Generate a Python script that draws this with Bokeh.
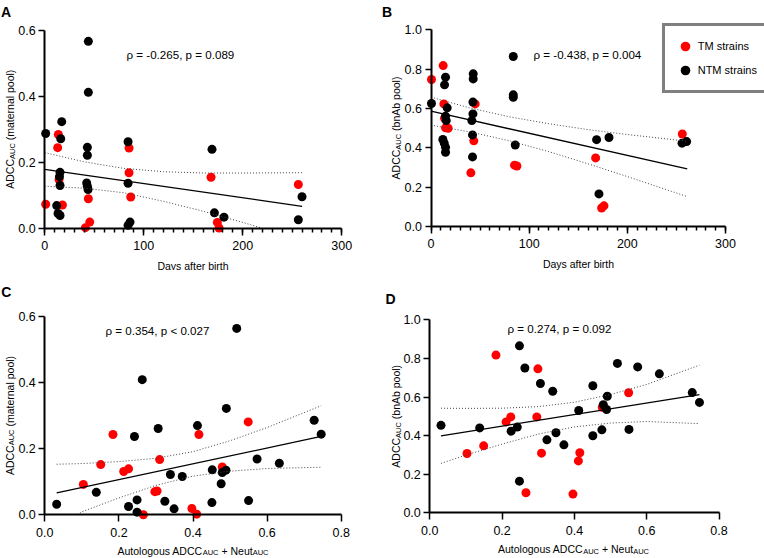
import math
from bokeh.plotting import figure
from bokeh.models import Label, Legend, LegendItem, FixedTicker, NumeralTickFormatter, Range1d
from bokeh.layouts import column, row
from bokeh.embed import file_html
from bokeh.resources import INLINE

FONT = "Liberation Sans"
RED = "#ff0000"
BLACK = "#000000"

# ---------------- Panel A: ADCC (maternal pool) vs days after birth
a_tm_days = [1.0, 13.8, 13.1, 14.5, 17.9, 44.1, 45.5, 41.1, 85.2, 85.2, 86.9, 168.0, 174.4, 176.1, 256.2]
a_tm_vals = [0.072, 0.284, 0.244, 0.147, 0.070, 0.089, 0.018, 0.001, 0.243, 0.168, 0.094, 0.154, 0.017, 0.0, 0.132]
a_ntm_days = [1.0, 17.2, 16.2, 15.5, 14.9, 15.5, 12.1, 13.5, 15.5, 44.1, 44.1, 43.1, 43.1, 42.4, 43.1, 43.8,
              84.2, 84.2, 86.2, 84.2, 169.0, 171.4, 181.1, 259.9, 256.2]
a_ntm_vals = [0.287, 0.323, 0.271, 0.169, 0.156, 0.129, 0.068, 0.044, 0.038, 0.567, 0.412, 0.245, 0.221, 0.137, 0.127, 0.117,
              0.262, 0.136, 0.018, 0.008, 0.239, 0.046, 0.033, 0.095, 0.025]
a_fit_days = [0, 260]
a_fit_vals = [0.178, 0.066]
a_up_days = [0, 40, 80, 120, 160, 200, 260]
a_up_vals = [0.229, 0.201, 0.181, 0.171, 0.167, 0.167, 0.168]
a_lo_days = [0, 40, 80, 120, 160, 200, 219]
a_lo_vals = [0.127, 0.121, 0.107, 0.081, 0.051, 0.017, 0.0]

# ---------------- Panel B: ADCC (bnAb pool) vs days after birth
b_tm_days = [0.5, 12.4, 13.1, 13.8, 14.8, 17.5, 45.0, 43.6, 40.6, 85.1, 87.5, 167.7, 256.0, 173.8, 176.2]
b_tm_vals = [0.747, 0.818, 0.623, 0.550, 0.501, 0.499, 0.623, 0.435, 0.272, 0.311, 0.307, 0.348, 0.470, 0.093, 0.104]
b_ntm_days = [0.5, 14.8, 13.8, 16.5, 14.8, 15.5, 12.1, 13.5, 14.8, 14.8, 43.0, 43.0, 42.7, 42.7, 41.6, 42.3, 42.3,
              83.8, 83.8, 83.8, 85.8, 168.7, 181.3, 171.1, 255.7, 260.4]
b_ntm_vals = [0.625, 0.759, 0.720, 0.603, 0.560, 0.538, 0.442, 0.423, 0.402, 0.377, 0.776, 0.750, 0.632, 0.572, 0.538, 0.465, 0.353,
              0.864, 0.669, 0.657, 0.414, 0.441, 0.452, 0.165, 0.423, 0.431]
b_fit_days = [0, 261]
b_fit_vals = [0.586, 0.292]
b_ci_days = [0, 40, 80, 120, 160, 200, 261]
b_up_vals = [0.657, 0.602, 0.557, 0.522, 0.492, 0.467, 0.433]
b_lo_vals = [0.515, 0.480, 0.435, 0.380, 0.318, 0.253, 0.151]

# ---------------- Panel C: ADCC (maternal pool) vs autologous ADCC + Neut
c_tm_x = [0.104, 0.151, 0.184, 0.213, 0.226, 0.310, 0.297, 0.303, 0.266, 0.397, 0.410, 0.549, 0.416, 0.479]
c_tm_y = [0.092, 0.152, 0.243, 0.131, 0.139, 0.167, 0.070, 0.072, 0.000, 0.019, 0.002, 0.281, 0.243, 0.145]
c_ntm_x = [0.032, 0.139, 0.263, 0.242, 0.306, 0.226, 0.249, 0.249, 0.339, 0.371, 0.324, 0.349, 0.518, 0.412,
           0.490, 0.727, 0.746, 0.573, 0.633, 0.452, 0.479, 0.489, 0.476, 0.451, 0.550]
c_ntm_y = [0.032, 0.068, 0.409, 0.237, 0.261, 0.025, 0.045, 0.008, 0.122, 0.116, 0.041, 0.018, 0.564, 0.270,
           0.322, 0.286, 0.244, 0.169, 0.156, 0.136, 0.128, 0.135, 0.094, 0.037, 0.043]
c_fit_x = [0.032, 0.746]
c_fit_y = [0.066, 0.237]
c_up_x = [0.032, 0.1, 0.2, 0.3, 0.4, 0.5, 0.6, 0.746]
c_up_y = [0.153, 0.155, 0.161, 0.171, 0.191, 0.224, 0.264, 0.330]
c_lo_x = [0.088, 0.1, 0.2, 0.3, 0.4, 0.5, 0.6, 0.746]
c_lo_y = [0.0, 0.009, 0.051, 0.089, 0.117, 0.132, 0.140, 0.144]

# ---------------- Panel D: ADCC (bnAb pool) vs autologous ADCC + Neut
d_tm_x = [0.183, 0.299, 0.211, 0.224, 0.296, 0.103, 0.149, 0.309, 0.266, 0.396, 0.411, 0.415, 0.550, 0.477]
d_tm_y = [0.817, 0.746, 0.471, 0.497, 0.497, 0.307, 0.347, 0.309, 0.104, 0.097, 0.269, 0.311, 0.622, 0.547]
d_ntm_x = [0.031, 0.138, 0.248, 0.263, 0.306, 0.340, 0.225, 0.242, 0.324, 0.349, 0.371, 0.412, 0.248, 0.519,
           0.575, 0.635, 0.451, 0.491, 0.480, 0.489, 0.726, 0.746, 0.476, 0.451, 0.551]
d_ntm_y = [0.453, 0.440, 0.865, 0.750, 0.670, 0.630, 0.423, 0.444, 0.378, 0.415, 0.352, 0.530, 0.164, 0.774,
           0.756, 0.720, 0.658, 0.604, 0.560, 0.535, 0.623, 0.572, 0.430, 0.399, 0.432]
d_fit_x = [0.031, 0.746]
d_fit_y = [0.399, 0.612]
d_ci_x = [0.031, 0.1, 0.2, 0.3, 0.4, 0.5, 0.6, 0.746]
d_up_y = [0.542, 0.541, 0.542, 0.550, 0.573, 0.613, 0.665, 0.765]
d_lo_y = [0.256, 0.299, 0.356, 0.408, 0.445, 0.465, 0.473, 0.462]

# tick values / labels
days_ticks = [0, 100, 200, 300]
days_minor = list(range(0, 301, 10))
auc_ticks = [0.0, 0.2, 0.4, 0.6, 0.8]
maternal_ticks = [0.0, 0.2, 0.4, 0.6]
bnab_ticks = [0.0, 0.2, 0.4, 0.6, 0.8, 1.0]

stats_a = "ρ = -0.265, p = 0.089"
stats_b = "ρ = -0.438, p = 0.004"
stats_c = "ρ = 0.354, p < 0.027"
stats_d = "ρ = 0.274, p = 0.092"
legend_labels = ["TM strains", "NTM strains"]


def make_fig(width, height, x0_px, y0_px, xppu, yppu, xticks, xminor, xfmt, yticks):
    # frame covers the whole canvas; axes are drawn at data 0 (fixed_location)
    xr = (-x0_px / xppu, (width - x0_px) / xppu)
    yr = (-(height - y0_px) / yppu, y0_px / yppu)
    p = figure(width=width, height=height, x_range=Range1d(*xr), y_range=Range1d(*yr),
               output_backend="svg", toolbar_location=None, min_border=0,
               min_border_left=0, min_border_right=0, min_border_top=0, min_border_bottom=0)
    p.grid.visible = False
    p.outline_line_color = None
    p.background_fill_color = "white"
    p.border_fill_color = "white"
    p.xaxis.ticker = FixedTicker(ticks=xticks, minor_ticks=xminor)
    p.xaxis.formatter = NumeralTickFormatter(format=xfmt)
    p.xaxis.bounds = (xticks[0], xticks[-1])
    p.xaxis.fixed_location = 0
    p.yaxis.ticker = FixedTicker(ticks=yticks, minor_ticks=[])
    p.yaxis.formatter = NumeralTickFormatter(format="0.0")
    p.yaxis.bounds = (yticks[0], yticks[-1])
    p.yaxis.fixed_location = 0
    for ax in p.axis:
        ax.axis_line_width = 2
        ax.axis_line_color = BLACK
        ax.major_tick_in = 0
        ax.minor_tick_in = 0
        ax.major_tick_line_width = 1.5
        ax.minor_tick_line_width = 1.5
        ax.major_tick_line_color = BLACK
        ax.minor_tick_line_color = BLACK
        ax.major_label_text_font = FONT
        ax.major_label_text_font_size = "12.5px"
        ax.major_label_text_color = BLACK
    p.xaxis.major_tick_out = 7
    p.xaxis.minor_tick_out = 4
    p.xaxis.major_label_standoff = 6
    p.yaxis.major_tick_out = 6
    p.yaxis.major_label_standoff = 3
    return p


def draw(p, tm_x, tm_y, ntm_x, ntm_y, fit_x, fit_y, up_x, up_y, lo_x, lo_y):
    r_tm = p.scatter(x=tm_x, y=tm_y, size=9, fill_color=RED, line_color=None)
    r_ntm = p.scatter(x=ntm_x, y=ntm_y, size=9, fill_color=BLACK, line_color=None)
    p.line(x=up_x, y=up_y, line_color="#444444", line_width=1, line_dash="1 2")
    p.line(x=lo_x, y=lo_y, line_color="#444444", line_width=1, line_dash="1 2")
    p.line(x=fit_x, y=fit_y, line_color=BLACK, line_width=1.3)
    return r_tm, r_ntm


def text(p, fr, px, py, s, size, align="left", baseline="middle", angle=0.0, bold=False):
    # fr = (canvas left, canvas bottom) in page pixels; px, py in page pixels
    p.add_layout(Label(x=px - fr[0], y=fr[1] - py, x_units="screen", y_units="screen", text=s,
                       text_font=FONT, text_font_size=f"{size}px", text_align=align,
                       text_baseline=baseline, angle=angle, text_color=BLACK,
                       text_font_style="bold" if bold else "normal"))


MAIN = 10.5
SUB = 7.5
W_SUB = 2.111 * SUB
W_SPACE = 0.278 * MAIN
W_ADCC = 2.833 * MAIN
W_PLUS_NEUT = 2.974 * MAIN


def sub_xlabel(p, fr, cx, base_y):
    a = cx + 9.7
    text(p, fr, a, base_y, "Autologous ADCC", MAIN, "right", "alphabetic")
    text(p, fr, a, base_y + 2.3, "AUC", SUB, "left", "alphabetic")
    text(p, fr, a + W_SUB + W_SPACE, base_y, "+ Neut", MAIN, "left", "alphabetic")
    text(p, fr, a + W_SUB + W_SPACE + W_PLUS_NEUT, base_y + 2.3, "AUC", SUB, "left", "alphabetic")


def sub_ylabel(p, fr, xb, cy, rest, w_rest):
    total = W_ADCC + W_SUB + W_SPACE + w_rest
    ya = cy + total / 2 - W_ADCC
    ang = math.pi / 2
    text(p, fr, xb, ya, "ADCC", MAIN, "right", "alphabetic", ang)
    text(p, fr, xb + 2.3, ya, "AUC", SUB, "left", "alphabetic", ang)
    text(p, fr, xb, ya - W_SUB - W_SPACE, rest, MAIN, "left", "alphabetic", ang)


STAT = 11.6
LETTER = 14

# ---- Panel A  (canvas at page 0,0 ; 380 x 270)
FA = (0, 270)
pA = make_fig(380, 270, 44.2, 227.5, 0.99, 329.2, days_ticks, days_minor, "0", maternal_ticks)
draw(pA, a_tm_days, a_tm_vals, a_ntm_days, a_ntm_vals, a_fit_days, a_fit_vals, a_up_days, a_up_vals, a_lo_days, a_lo_vals)
text(pA, FA, 0.5, 11.7, "A", LETTER, "left", "alphabetic", bold=True)
text(pA, FA, 126, 54, stats_a, STAT)
text(pA, FA, 192.5, 265, "Days after birth", MAIN, "center", "middle")
sub_ylabel(pA, FA, 9.3, 128.7, "(maternal pool)", 6.724 * MAIN)

# ---- Panel B  (canvas at page 380,0 ; 384 x 270)
FB = (380, 270)
pB = make_fig(384, 270, 50.5, 225.8, 0.9817, 196.5, days_ticks, days_minor, "0", bnab_ticks)
rb_tm, rb_ntm = draw(pB, b_tm_days, b_tm_vals, b_ntm_days, b_ntm_vals, b_fit_days, b_fit_vals,
                     b_ci_days, b_up_vals, b_ci_days, b_lo_vals)
text(pB, FB, 381.5, 11.7, "B", LETTER, "left", "alphabetic", bold=True)
text(pB, FB, 533, 54.3, stats_b, STAT)
text(pB, FB, 578, 263.5, "Days after birth", MAIN, "center", "middle")
sub_ylabel(pB, FB, 395.5, 127.5, "(bnAb pool)", 5.169 * MAIN)
legend = Legend(items=[LegendItem(label=legend_labels[0], renderers=[rb_tm]),
                       LegendItem(label=legend_labels[1], renderers=[rb_ntm])],
                location=(281.7, 177.0), orientation="vertical",
                border_line_color=BLACK, border_line_width=3, background_fill_color="white",
                background_fill_alpha=1.0, padding=8, spacing=0, glyph_width=24, glyph_height=24,
                label_standoff=1, label_text_font=FONT, label_text_font_size="11px",
                label_height=24, label_text_color=BLACK, margin=0)
pB.add_layout(legend)

# ---- Panel C  (canvas at page 0,270 ; 380 x 288)
FC = (0, 558)
pC = make_fig(380, 288, 44.3, 244.3, 370.5, 330.5, auc_ticks, [], "0.0", maternal_ticks)
draw(pC, c_tm_x, c_tm_y, c_ntm_x, c_ntm_y, c_fit_x, c_fit_y, c_up_x, c_up_y, c_lo_x, c_lo_y)
text(pC, FC, 0.7, 291.5, "C", LETTER, "left", "alphabetic", bold=True)
text(pC, FC, 105, 330, stats_c, STAT)
sub_xlabel(pC, FC, 192.5, 550.0)
sub_ylabel(pC, FC, 9.0, 415, "(maternal pool)", 6.724 * MAIN)

# ---- Panel D  (canvas at page 380,270 ; 384 x 288)
FD = (380, 558)
pD = make_fig(384, 288, 49.3, 242.3, 361.5, 193.0, auc_ticks, [], "0.0", bnab_ticks)
draw(pD, d_tm_x, d_tm_y, d_ntm_x, d_ntm_y, d_fit_x, d_fit_y, d_ci_x, d_up_y, d_ci_x, d_lo_y)
text(pD, FD, 385, 298.3, "D", LETTER, "left", "alphabetic", bold=True)
text(pD, FD, 507, 328.3, stats_d, STAT)
sub_xlabel(pD, FD, 573, 548.5)
sub_ylabel(pD, FD, 395.5, 415.8, "(bnAb pool)", 5.169 * MAIN)

layout = column(row(pA, pB), row(pC, pD))
open("out.html", "w").write(file_html(layout, INLINE))
